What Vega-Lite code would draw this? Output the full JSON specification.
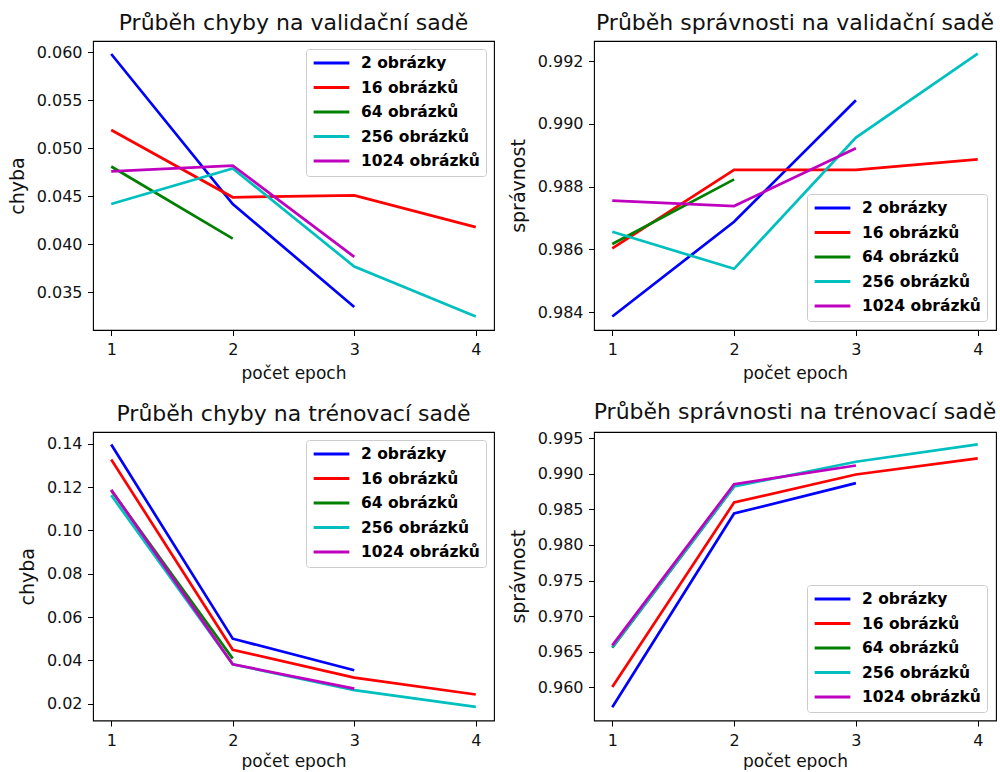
{
  "$schema": "https://vega.github.io/schema/vega-lite/v6.json",
  "background": "white",
  "padding": {"left": 7, "top": 11, "right": 0, "bottom": 0},
  "config": {
    "font": "DejaVu Sans",
    "view": {"stroke": "black", "strokeWidth": 1.1},
    "axis": {"domain": false, "grid": false, "ticks": true, "tickColor": "black", "tickSize": 5.5, "tickWidth": 1, "labelFontSize": 16, "labelColor": "#111111", "titleFontSize": 17, "titleFontWeight": "normal", "titleColor": "#111111", "labelFont": "DejaVu Sans", "titleFont": "DejaVu Sans"},
    "axisX": {"labelPadding": 6, "titlePadding": 8},
    "axisY": {"labelPadding": 5.5, "titlePadding": 9, "titleFontSize": 19},
    "title": {"fontSize": 22, "fontWeight": "normal", "color": "#111111", "font": "DejaVu Sans", "offset": 6},
    "legend": {"offset": 8, "padding": 6, "fillColor": "rgba(255,255,255,0.8)", "strokeColor": "#cccccc", "cornerRadius": 3, "symbolType": "stroke", "symbolSize": 1274, "symbolStrokeWidth": 2.8, "clipHeight": 16, "labelFontSize": 15.5, "labelFontWeight": "bold", "labelColor": "black", "labelOffset": 10, "rowPadding": 7.5, "labelFont": "DejaVu Sans"}
  },
  "datasets": {
    "d": [
      {"panel": "val_loss", "series": "2 obrázky", "epoch": 1, "value": 0.0598},
      {"panel": "val_loss", "series": "2 obrázky", "epoch": 2, "value": 0.0442},
      {"panel": "val_loss", "series": "2 obrázky", "epoch": 3, "value": 0.0335},
      {"panel": "val_loss", "series": "16 obrázků", "epoch": 1, "value": 0.0519},
      {"panel": "val_loss", "series": "16 obrázků", "epoch": 2, "value": 0.0449},
      {"panel": "val_loss", "series": "16 obrázků", "epoch": 3, "value": 0.0451},
      {"panel": "val_loss", "series": "16 obrázků", "epoch": 4, "value": 0.0418},
      {"panel": "val_loss", "series": "64 obrázků", "epoch": 1, "value": 0.0481},
      {"panel": "val_loss", "series": "64 obrázků", "epoch": 2, "value": 0.0406},
      {"panel": "val_loss", "series": "256 obrázků", "epoch": 1, "value": 0.0442},
      {"panel": "val_loss", "series": "256 obrázků", "epoch": 2, "value": 0.0479},
      {"panel": "val_loss", "series": "256 obrázků", "epoch": 3, "value": 0.0377},
      {"panel": "val_loss", "series": "256 obrázků", "epoch": 4, "value": 0.0325},
      {"panel": "val_loss", "series": "1024 obrázků", "epoch": 1, "value": 0.0476},
      {"panel": "val_loss", "series": "1024 obrázků", "epoch": 2, "value": 0.0482},
      {"panel": "val_loss", "series": "1024 obrázků", "epoch": 3, "value": 0.0387},

      {"panel": "val_acc", "series": "2 obrázky", "epoch": 1, "value": 0.98386},
      {"panel": "val_acc", "series": "2 obrázky", "epoch": 2, "value": 0.98688},
      {"panel": "val_acc", "series": "2 obrázky", "epoch": 3, "value": 0.99075},
      {"panel": "val_acc", "series": "16 obrázků", "epoch": 1, "value": 0.98603},
      {"panel": "val_acc", "series": "16 obrázků", "epoch": 2, "value": 0.98853},
      {"panel": "val_acc", "series": "16 obrázků", "epoch": 3, "value": 0.98853},
      {"panel": "val_acc", "series": "16 obrázků", "epoch": 4, "value": 0.98887},
      {"panel": "val_acc", "series": "64 obrázků", "epoch": 1, "value": 0.98617},
      {"panel": "val_acc", "series": "64 obrázků", "epoch": 2, "value": 0.98823},
      {"panel": "val_acc", "series": "256 obrázků", "epoch": 1, "value": 0.98656},
      {"panel": "val_acc", "series": "256 obrázků", "epoch": 2, "value": 0.98538},
      {"panel": "val_acc", "series": "256 obrázků", "epoch": 3, "value": 0.98956},
      {"panel": "val_acc", "series": "256 obrázků", "epoch": 4, "value": 0.99224},
      {"panel": "val_acc", "series": "1024 obrázků", "epoch": 1, "value": 0.98755},
      {"panel": "val_acc", "series": "1024 obrázků", "epoch": 2, "value": 0.98738},
      {"panel": "val_acc", "series": "1024 obrázků", "epoch": 3, "value": 0.98922},

      {"panel": "train_loss", "series": "2 obrázky", "epoch": 1, "value": 0.1397},
      {"panel": "train_loss", "series": "2 obrázky", "epoch": 2, "value": 0.0500},
      {"panel": "train_loss", "series": "2 obrázky", "epoch": 3, "value": 0.0354},
      {"panel": "train_loss", "series": "16 obrázků", "epoch": 1, "value": 0.1328},
      {"panel": "train_loss", "series": "16 obrázků", "epoch": 2, "value": 0.0449},
      {"panel": "train_loss", "series": "16 obrázků", "epoch": 3, "value": 0.0320},
      {"panel": "train_loss", "series": "16 obrázků", "epoch": 4, "value": 0.0242},
      {"panel": "train_loss", "series": "64 obrázků", "epoch": 1, "value": 0.1185},
      {"panel": "train_loss", "series": "64 obrázků", "epoch": 2, "value": 0.0408},
      {"panel": "train_loss", "series": "256 obrázků", "epoch": 1, "value": 0.1163},
      {"panel": "train_loss", "series": "256 obrázků", "epoch": 2, "value": 0.0382},
      {"panel": "train_loss", "series": "256 obrázků", "epoch": 3, "value": 0.0262},
      {"panel": "train_loss", "series": "256 obrázků", "epoch": 4, "value": 0.0185},
      {"panel": "train_loss", "series": "1024 obrázků", "epoch": 1, "value": 0.1188},
      {"panel": "train_loss", "series": "1024 obrázků", "epoch": 2, "value": 0.0382},
      {"panel": "train_loss", "series": "1024 obrázků", "epoch": 3, "value": 0.0269},

      {"panel": "train_acc", "series": "2 obrázky", "epoch": 1, "value": 0.95717},
      {"panel": "train_acc", "series": "2 obrázky", "epoch": 2, "value": 0.98443},
      {"panel": "train_acc", "series": "2 obrázky", "epoch": 3, "value": 0.98870},
      {"panel": "train_acc", "series": "16 obrázků", "epoch": 1, "value": 0.96000},
      {"panel": "train_acc", "series": "16 obrázků", "epoch": 2, "value": 0.98598},
      {"panel": "train_acc", "series": "16 obrázků", "epoch": 3, "value": 0.98992},
      {"panel": "train_acc", "series": "16 obrázků", "epoch": 4, "value": 0.99218},
      {"panel": "train_acc", "series": "64 obrázků", "epoch": 1, "value": 0.96554},
      {"panel": "train_acc", "series": "64 obrázků", "epoch": 2, "value": 0.98823},
      {"panel": "train_acc", "series": "256 obrázků", "epoch": 1, "value": 0.96563},
      {"panel": "train_acc", "series": "256 obrázků", "epoch": 2, "value": 0.98823},
      {"panel": "train_acc", "series": "256 obrázků", "epoch": 3, "value": 0.99171},
      {"panel": "train_acc", "series": "256 obrázků", "epoch": 4, "value": 0.99415},
      {"panel": "train_acc", "series": "1024 obrázků", "epoch": 1, "value": 0.96587},
      {"panel": "train_acc", "series": "1024 obrázků", "epoch": 2, "value": 0.98856},
      {"panel": "train_acc", "series": "1024 obrázků", "epoch": 3, "value": 0.99119}
    ]
  },
  "columns": 2,
  "align": "all",
  "spacing": {"row": 17, "column": 12},
  "resolve": {"scale": {"y": "independent", "color": "independent"}, "legend": {"color": "independent"}},
  "concat": [
    {
      "data": {"name": "d"},
      "transform": [{"filter": "datum.panel === 'val_loss'"}],
      "title": "Průběh chyby na validační sadě",
      "width": 401, "height": 289,
      "mark": {"type": "line", "strokeWidth": 2.7},
      "encoding": {
        "x": {"field": "epoch", "type": "quantitative", "scale": {"domain": [0.85, 4.15], "nice": false, "zero": false}, "axis": {"values": [1, 2, 3, 4], "format": "d", "title": "počet epoch"}},
        "y": {"field": "value", "type": "quantitative", "scale": {"domain": [0.0311, 0.06115], "nice": false, "zero": false}, "axis": {"values": [0.035, 0.04, 0.045, 0.05, 0.055, 0.06], "format": ".3f", "title": "chyba"}},
        "color": {"field": "series", "type": "nominal", "title": null, "scale": {"domain": ["2 obrázky", "16 obrázků", "64 obrázků", "256 obrázků", "1024 obrázků"], "range": ["#0000ff", "#ff0000", "#008000", "#00bfbf", "#bf00bf"]}, "legend": {"orient": "top-right"}}
      }
    },
    {
      "data": {"name": "d"},
      "transform": [{"filter": "datum.panel === 'val_acc'"}],
      "title": "Průběh správnosti na validační sadě",
      "width": 402, "height": 289,
      "mark": {"type": "line", "strokeWidth": 2.7},
      "encoding": {
        "x": {"field": "epoch", "type": "quantitative", "scale": {"domain": [0.85, 4.15], "nice": false, "zero": false}, "axis": {"values": [1, 2, 3, 4], "format": "d", "title": "počet epoch"}},
        "y": {"field": "value", "type": "quantitative", "scale": {"domain": [0.98343, 0.99264], "nice": false, "zero": false}, "axis": {"values": [0.984, 0.986, 0.988, 0.99, 0.992], "format": ".3f", "title": "správnost"}},
        "color": {"field": "series", "type": "nominal", "title": null, "scale": {"domain": ["2 obrázky", "16 obrázků", "64 obrázků", "256 obrázků", "1024 obrázků"], "range": ["#0000ff", "#ff0000", "#008000", "#00bfbf", "#bf00bf"]}, "legend": {"orient": "bottom-right", "offset": 9}}
      }
    },
    {
      "data": {"name": "d"},
      "transform": [{"filter": "datum.panel === 'train_loss'"}],
      "title": "Průběh chyby na trénovací sadě",
      "width": 401, "height": 288.5,
      "mark": {"type": "line", "strokeWidth": 2.7},
      "encoding": {
        "x": {"field": "epoch", "type": "quantitative", "scale": {"domain": [0.85, 4.15], "nice": false, "zero": false}, "axis": {"values": [1, 2, 3, 4], "format": "d", "title": "počet epoch", "titlePadding": 5}},
        "y": {"field": "value", "type": "quantitative", "scale": {"domain": [0.0122, 0.1455], "nice": false, "zero": false}, "axis": {"values": [0.02, 0.04, 0.06, 0.08, 0.1, 0.12, 0.14], "format": ".2f", "title": "chyba"}},
        "color": {"field": "series", "type": "nominal", "title": null, "scale": {"domain": ["2 obrázky", "16 obrázků", "64 obrázků", "256 obrázků", "1024 obrázků"], "range": ["#0000ff", "#ff0000", "#008000", "#00bfbf", "#bf00bf"]}, "legend": {"orient": "top-right"}}
      }
    },
    {
      "data": {"name": "d"},
      "transform": [{"filter": "datum.panel === 'train_acc'"}],
      "title": "Průběh správnosti na trénovací sadě",
      "width": 402, "height": 288.5,
      "mark": {"type": "line", "strokeWidth": 2.7},
      "encoding": {
        "x": {"field": "epoch", "type": "quantitative", "scale": {"domain": [0.85, 4.15], "nice": false, "zero": false}, "axis": {"values": [1, 2, 3, 4], "format": "d", "title": "počet epoch", "titlePadding": 5}},
        "y": {"field": "value", "type": "quantitative", "scale": {"domain": [0.9553, 0.9959], "nice": false, "zero": false}, "axis": {"values": [0.96, 0.965, 0.97, 0.975, 0.98, 0.985, 0.99, 0.995], "format": ".3f", "title": "správnost"}},
        "color": {"field": "series", "type": "nominal", "title": null, "scale": {"domain": ["2 obrázky", "16 obrázků", "64 obrázků", "256 obrázků", "1024 obrázků"], "range": ["#0000ff", "#ff0000", "#008000", "#00bfbf", "#bf00bf"]}, "legend": {"orient": "bottom-right", "offset": 9}}
      }
    }
  ]
}
